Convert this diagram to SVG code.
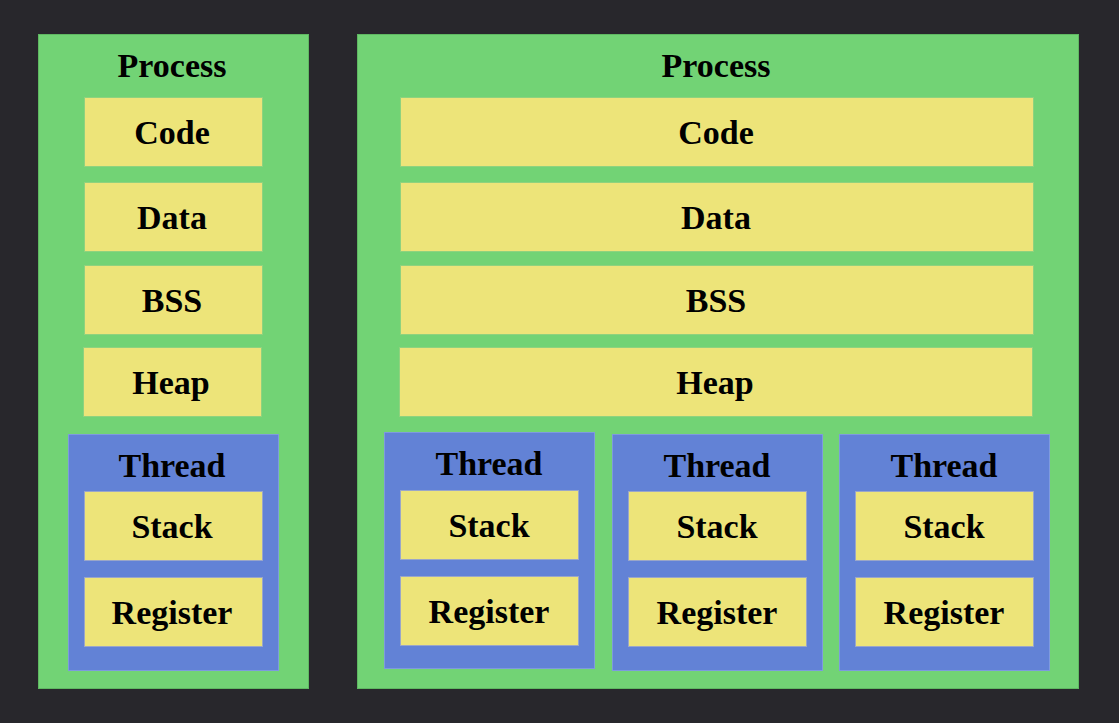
<svg xmlns="http://www.w3.org/2000/svg" width="1119" height="723" viewBox="0 0 1119 723">
<style>
.bg{fill:#28272c}
.proc{fill:#72d375;stroke:#5fb862;stroke-width:1}
.seg{fill:#ede479;stroke:#8fd27e;stroke-width:1}
.thr{fill:#6282d6;stroke:#7e9ade;stroke-width:1}
.tseg{fill:#ede479;stroke:#9aa6c8;stroke-width:1}
text{font-family:"Liberation Serif","Times New Roman",serif;font-weight:700;font-size:34px;fill:#000;text-anchor:middle}
</style>
<rect class="bg" x="0" y="0" width="1119" height="723"/>
<g id="process-left">
<rect class="proc" x="38.5" y="34.5" width="270" height="654"/>
<text x="172" y="77">Process</text>
</g>
<g id="code-left"><rect class="seg" x="84.5" y="97.5" width="178" height="69"/><text x="172" y="144">Code</text></g>
<g id="data-left"><rect class="seg" x="84.5" y="182.5" width="178" height="69"/><text x="172" y="229">Data</text></g>
<g id="bss-left"><rect class="seg" x="84.5" y="265.5" width="178" height="69"/><text x="172" y="312">BSS</text></g>
<g id="heap-left"><rect class="seg" x="83.5" y="347.5" width="178" height="69"/><text x="171" y="394">Heap</text></g>
<g id="thread-left">
<rect class="thr" x="68.5" y="434.5" width="210" height="236"/>
<text x="172" y="477">Thread</text>
<rect class="tseg" x="84.5" y="491.5" width="178" height="69"/><text x="172" y="538">Stack</text>
<rect class="tseg" x="84.5" y="577.5" width="178" height="69"/><text x="172" y="624">Register</text>
</g>
<g id="process-right">
<rect class="proc" x="357.5" y="34.5" width="721" height="654"/>
<text x="716" y="77">Process</text>
</g>
<g id="code-right"><rect class="seg" x="400.5" y="97.5" width="633" height="69"/><text x="716" y="144">Code</text></g>
<g id="data-right"><rect class="seg" x="400.5" y="182.5" width="633" height="69"/><text x="716" y="229">Data</text></g>
<g id="bss-right"><rect class="seg" x="400.5" y="265.5" width="633" height="69"/><text x="716" y="312">BSS</text></g>
<g id="heap-right"><rect class="seg" x="399.5" y="347.5" width="633" height="69"/><text x="715" y="394">Heap</text></g>
<g id="thread-1">
<rect class="thr" x="384.5" y="432.5" width="210" height="236"/>
<text x="489" y="475">Thread</text>
<rect class="tseg" x="400.5" y="490.5" width="178" height="69"/><text x="489" y="537">Stack</text>
<rect class="tseg" x="400.5" y="576.5" width="178" height="69"/><text x="489" y="623">Register</text>
</g>
<g id="thread-2">
<rect class="thr" x="612.5" y="434.5" width="210" height="236"/>
<text x="717" y="477">Thread</text>
<rect class="tseg" x="628.5" y="491.5" width="178" height="69"/><text x="717" y="538">Stack</text>
<rect class="tseg" x="628.5" y="577.5" width="178" height="69"/><text x="717" y="624">Register</text>
</g>
<g id="thread-3">
<rect class="thr" x="839.5" y="434.5" width="210" height="236"/>
<text x="944" y="477">Thread</text>
<rect class="tseg" x="855.5" y="491.5" width="178" height="69"/><text x="944" y="538">Stack</text>
<rect class="tseg" x="855.5" y="577.5" width="178" height="69"/><text x="944" y="624">Register</text>
</g>
<g id="connectors"></g>
</svg>
